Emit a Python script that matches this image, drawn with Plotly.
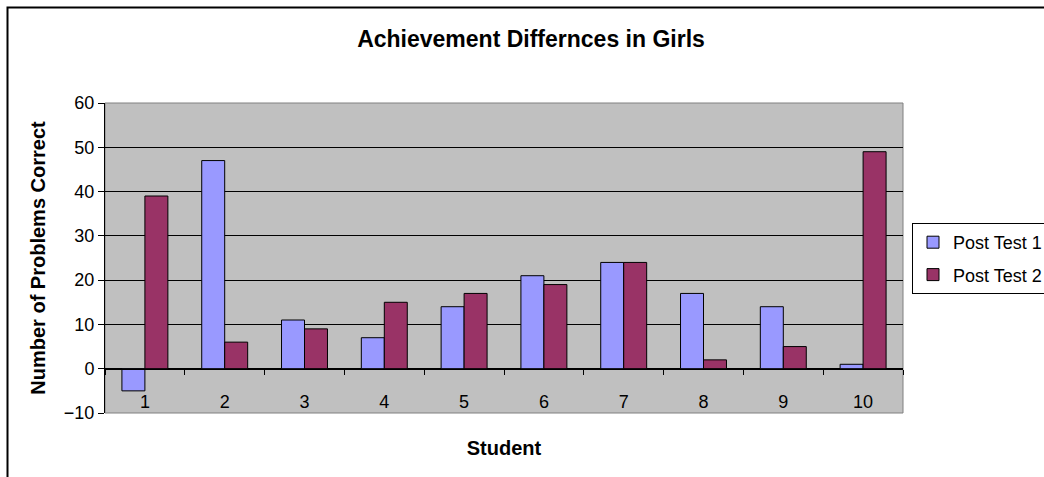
import plotly.graph_objects as go

students = ["1", "2", "3", "4", "5", "6", "7", "8", "9", "10"]
post_test_1 = [-5, 47, 11, 7, 14, 21, 24, 17, 14, 1]
post_test_2 = [39, 6, 9, 15, 17, 19, 24, 2, 5, 49]

series_names = ["Post Test 1", "Post Test 2"]
series_colors = ["#9999FF", "#993366"]

FONT = "Liberation Sans, Arial, sans-serif"

W, H = 1044, 477
L, R, T, B = 105, 141, 103, 64
pw, ph = W - L - R, H - T - B

def px_x(px):
    return (px - L) / pw

def px_y(py):
    return (H - B - py) / ph

fig = go.Figure()
for name, vals, col in zip(series_names, [post_test_1, post_test_2], series_colors):
    fig.add_trace(go.Bar(
        x=students, y=vals, name=name, legendgroup=name,
        marker=dict(color=col, line=dict(color="black", width=1)),
    ))

ymin, ymax = -10, 60

fig.update_layout(
    width=W, height=H,
    margin=dict(l=L, r=R, t=T, b=B, autoexpand=False),
    paper_bgcolor="white",
    plot_bgcolor="#C0C0C0",
    barmode="group",
    bargap=0.424,
    bargroupgap=0,
    font=dict(family=FONT, color="black", size=18),
    title=dict(
        text="<b>Achievement Differnces in Girls</b>",
        font=dict(family=FONT, size=23, color="black"),
        xref="container", x=531 / W, xanchor="center",
        yref="container", y=1 - 39 / H, yanchor="middle",
    ),
    xaxis=dict(
        type="category",
        range=[-0.5, 9.5],
        anchor="free",
        position=(0 - ymin) / (ymax - ymin),
        showline=True, linecolor="black", linewidth=1,
        ticks="outside", tickson="boundaries", ticklen=5, tickcolor="black", tickwidth=1,
        showgrid=False, zeroline=False,
        ticklabelstandoff=17,
        tickfont=dict(size=18),
        title=dict(text="<b>Student</b>", font=dict(size=20), standoff=29),
    ),
    yaxis=dict(
        range=[ymin, ymax],
        dtick=10, tick0=0,
        showline=True, linecolor="black", linewidth=1,
        ticks="outside", ticklen=6, tickcolor="black", tickwidth=1,
        showgrid=True, gridcolor="black", gridwidth=1,
        zeroline=False,
        tickfont=dict(size=18),
        title=dict(text="<b>Number of Problems Correct</b>", font=dict(size=20), standoff=12),
    ),
    legend=dict(
        x=px_x(912), y=px_y(223), xanchor="left", yanchor="top",
        bordercolor="black", borderwidth=1, bgcolor="white",
        font=dict(size=18),
        traceorder="grouped", tracegroupgap=6,
    ),
    shapes=[
        dict(type="rect", xref="paper", yref="paper", x0=0, x1=1, y0=0, y1=1,
             line=dict(color="#808080", width=1), fillcolor="rgba(0,0,0,0)", layer="below"),
        dict(type="rect", xref="paper", yref="paper",
             x0=px_x(7.5), x1=px_x(W + 20), y0=px_y(H + 20), y1=px_y(7.5),
             line=dict(color="black", width=2), fillcolor="rgba(0,0,0,0)", layer="above"),
    ],
)

fig.write_html("out.html")
